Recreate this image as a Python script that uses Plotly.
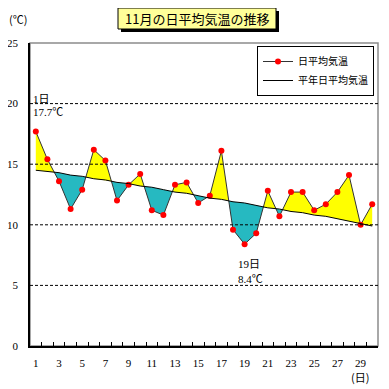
import plotly.graph_objects as go

# ---- data ----
days = list(range(1, 31))
daily_mean = [17.7, 15.4, 13.6, 11.3, 12.9, 16.2, 15.3, 12.0, 13.3, 14.2,
              11.2, 10.8, 13.3, 13.5, 11.8, 12.4, 16.1, 9.6, 8.4, 9.3,
              12.8, 10.7, 12.7, 12.7, 11.2, 11.7, 12.7, 14.1, 10.0, 11.7]
normal_mean = [14.5, 14.4, 14.3, 14.1, 14.0, 13.8, 13.7, 13.5, 13.4, 13.2,
               13.1, 12.9, 12.7, 12.6, 12.4, 12.2, 12.1, 11.9, 11.8, 11.6,
               11.4, 11.3, 11.1, 11.0, 10.8, 10.7, 10.5, 10.3, 10.1, 9.9]
x_tick_days = [d for d in days if d % 2 == 1]
y_ticks = [0, 5, 10, 15, 20, 25]
grid_values = [5, 10, 15, 20]

# The page body has a default 8px margin, so the figure is offset by 8px.
OFF = 8
PAGE = 389
W = H = PAGE - OFF
# plot area in page pixels: x 30..378, y 43..346
L, R, T, B = 30 - OFF, PAGE - 378, 43 - OFF, PAGE - 346
PW, PH = W - L - R, H - T - B


def px_x(p):  # page pixel -> paper x
    return (p - OFF - L) / PW


def px_y(p):  # page pixel -> paper y
    return (H - B - (p - OFF)) / PH


# ---- build fill polygons between daily and normal (with crossing points) ----
xs, nm, up, lo = [], [], [], []
n = len(days)
for i in range(n):
    a, b = daily_mean[i], normal_mean[i]
    xs.append(days[i]); nm.append(b); up.append(max(a, b)); lo.append(min(a, b))
    if i < n - 1:
        d0 = a - b
        d1 = daily_mean[i + 1] - normal_mean[i + 1]
        if d0 * d1 < 0:
            t = d0 / (d0 - d1)
            xc = days[i] + t
            yc = b + t * (normal_mean[i + 1] - b)
            xs.append(xc); nm.append(yc); up.append(yc); lo.append(yc)

YELLOW = "#FFFF00"
TEAL = "#26B9C1"

fig = go.Figure()
fig.add_trace(go.Scatter(x=xs, y=nm, mode="lines", line=dict(width=0),
                         showlegend=False, hoverinfo="skip"))
fig.add_trace(go.Scatter(x=xs, y=up, mode="lines", line=dict(width=0),
                         fill="tonexty", fillcolor=YELLOW,
                         showlegend=False, hoverinfo="skip"))
fig.add_trace(go.Scatter(x=xs, y=nm, mode="lines", line=dict(width=0),
                         showlegend=False, hoverinfo="skip"))
fig.add_trace(go.Scatter(x=xs, y=lo, mode="lines", line=dict(width=0),
                         fill="tonexty", fillcolor=TEAL,
                         showlegend=False, hoverinfo="skip"))
fig.add_trace(go.Scatter(x=days, y=daily_mean, mode="lines+markers",
                         name="日平均気温",
                         line=dict(color="#333333", width=1),
                         marker=dict(color="#FF0000", size=6, line=dict(width=0))))
fig.add_trace(go.Scatter(x=days, y=normal_mean, mode="lines",
                         name="平年日平均気温",
                         line=dict(color="#000000", width=1)))

shapes = []
# gray plot frame (top/right)
shapes.append(dict(type="rect", xref="paper", yref="paper", x0=0, x1=1, y0=0, y1=1,
                   line=dict(color="#8C8C8C", width=1.5), layer="below"))
# dashed grid lines above fills
for g in grid_values:
    shapes.append(dict(type="line", xref="paper", yref="y", x0=0, x1=1, y0=g, y1=g,
                       line=dict(color="#000000", width=1, dash="3px,2px"), layer="above"))
# title box shadow + box
shapes.append(dict(type="rect", xref="paper", yref="paper",
                   x0=px_x(121), x1=px_x(279), y0=px_y(32), y1=px_y(11),
                   fillcolor="#000000", line=dict(width=0), layer="above"))
shapes.append(dict(type="rect", xref="paper", yref="paper",
                   x0=px_x(118), x1=px_x(276), y0=px_y(29), y1=px_y(8),
                   fillcolor="#FFFF99", line=dict(color="#000000", width=1), layer="above"))

i_max = daily_mean.index(max(daily_mean))
i_min = daily_mean.index(min(daily_mean))
serif = "Liberation Serif, Times New Roman, Noto Sans CJK JP, serif"
cjk = "Noto Sans CJK JP, sans-serif"

annotations = [
    dict(text="11月の日平均気温の推移", xref="paper", yref="paper",
         x=px_x(197), y=px_y(18.5), xanchor="center", yanchor="middle",
         showarrow=False, font=dict(family=cjk, size=13, color="#000000")),
    dict(text="(℃)", xref="paper", yref="paper", x=px_x(18), y=px_y(19),
         xanchor="center", yanchor="middle", showarrow=False,
         font=dict(family=cjk, size=11, color="#000000")),
    dict(text="(日)", xref="paper", yref="paper", x=px_x(360), y=px_y(377),
         xanchor="center", yanchor="middle", showarrow=False,
         font=dict(family=cjk, size=11, color="#000000")),
    dict(text=f"{days[i_max]}日", xref="paper", yref="paper", x=px_x(30.5), y=px_y(98.5),
         xanchor="left", yanchor="middle", showarrow=False,
         font=dict(family=serif, size=11, color="#000000")),
    dict(text=f"{daily_mean[i_max]:.1f}℃", xref="paper", yref="paper", x=px_x(30.5), y=px_y(112.5),
         xanchor="left", yanchor="middle", showarrow=False,
         font=dict(family=serif, size=11, color="#000000")),
    dict(text=f"{days[i_min]}日", xref="paper", yref="paper", x=px_x(236.5), y=px_y(264),
         xanchor="left", yanchor="middle", showarrow=False,
         font=dict(family=serif, size=11, color="#000000")),
    dict(text=f"{daily_mean[i_min]:.1f}℃", xref="paper", yref="paper", x=px_x(236.5), y=px_y(279),
         xanchor="left", yanchor="middle", showarrow=False,
         font=dict(family=serif, size=11, color="#000000")),
]

fig.update_layout(
    width=W, height=H,
    margin=dict(l=L, r=R, t=T, b=B, pad=0, autoexpand=False),
    paper_bgcolor="#FFFFFF", plot_bgcolor="#FFFFFF",
    shapes=shapes, annotations=annotations,
    showlegend=True,
    legend=dict(x=px_x(257), y=px_y(46), xanchor="left", yanchor="top",
                bgcolor="#FFFFFF", bordercolor="#000000", borderwidth=1,
                font=dict(family=cjk, size=10, color="#000000"),
                itemwidth=30, traceorder="normal"),
    xaxis=dict(range=[0.5, 30.5], tickmode="array", tickvals=x_tick_days,
               ticktext=[str(d) for d in x_tick_days], ticks="",
               showgrid=False, zeroline=False,
               showline=True, linecolor="#000000", linewidth=1.5,
               tickfont=dict(family=serif, size=11, color="#000000"),
               ticklabelstandoff=6,
               minor=dict(tickmode="array", tickvals=[d + 0.5 for d in days[:-1]],
                          ticks="inside", ticklen=4, tickcolor="#000000", tickwidth=1,
                          showgrid=False)),
    yaxis=dict(range=[0, 25], tickmode="array", tickvals=y_ticks, ticks="",
               showgrid=False, zeroline=False,
               showline=True, linecolor="#000000", linewidth=1.5,
               tickfont=dict(family=serif, size=11, color="#000000"),
               ticklabelstandoff=8),
)

fig.write_html("out.html")
